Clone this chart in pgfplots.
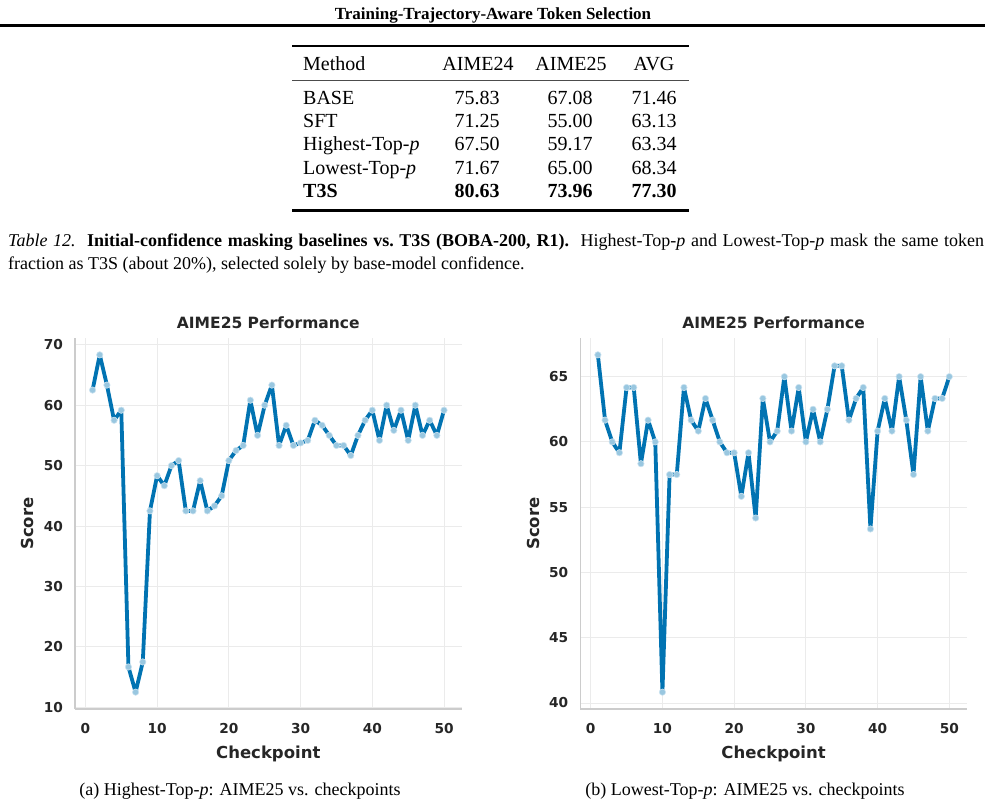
\documentclass[border=0pt]{standalone}
\usepackage{fontspec}
\setmainfont{Liberation Serif}
\newfontfamily\dejavu{DejaVu Sans}
\usepackage{pgfplots}
\usepackage{pgfplotstable}
\pgfplotsset{compat=1.18}
\definecolor{cb}{RGB}{1,115,178}
\definecolor{txt}{RGB}{38,38,38}
\definecolor{spine}{RGB}{204,204,204}
\definecolor{gridc}{RGB}{235,235,235}

\pgfplotstableread{
x y
1 62.50
2 68.33
3 63.33
4 57.50
5 59.17
6 16.67
7 12.50
8 17.50
9 42.50
10 48.33
11 46.67
12 50.00
13 50.83
14 42.50
15 42.50
16 47.50
17 42.50
18 43.33
19 45.00
20 50.83
21 52.50
22 53.33
23 60.83
24 55.00
25 60.00
26 63.33
27 53.33
28 56.67
29 53.33
30 53.75
31 54.17
32 57.50
33 56.67
34 55.00
35 53.33
36 53.33
37 51.67
38 55.00
39 57.50
40 59.17
41 54.17
42 60.00
43 55.83
44 59.17
45 54.17
46 60.00
47 55.00
48 57.50
49 55.00
50 59.17
}\hightab

\pgfplotstableread{
x y
1 66.67
2 61.67
3 60.00
4 59.17
5 64.17
6 64.17
7 58.33
8 61.67
9 60.00
10 40.83
11 57.50
12 57.50
13 64.17
14 61.67
15 60.83
16 63.33
17 61.67
18 60.00
19 59.17
20 59.17
21 55.83
22 59.17
23 54.17
24 63.33
25 60.00
26 60.83
27 65.00
28 60.83
29 64.17
30 60.00
31 62.50
32 60.00
33 62.50
34 65.83
35 65.83
36 61.67
37 63.33
38 64.17
39 53.33
40 60.83
41 63.33
42 60.83
43 65.00
44 61.67
45 57.50
46 65.00
47 60.83
48 63.33
49 63.33
50 65.00
}\lowtab

\pgfplotsset{myax/.style={
  scale only axis, width=386.6pt, height=371pt,
  xmin=-1.45, xmax=52.45,
  axis x line*=bottom, axis y line*=left,
  axis line style={-, draw=spine, line width=1.3pt},
  xtick={0,10,...,50},
  major tick length=0pt,
  grid=major, grid style={draw=gridc, line width=0.9pt},
  /pgf/number format/assume math mode=true,
  tick label style={font=\dejavu\bfseries\fontsize{13.7}{16}\selectfont, text=txt},
  xticklabel style={yshift=-11pt},
  yticklabel style={xshift=-8.5pt},
  label style={font=\dejavu\bfseries\fontsize{16.5}{19}\selectfont, text=txt},
  every axis title shift=0pt,
  title style={font=\dejavu\bfseries\fontsize{15.5}{18}\selectfont, text=txt, at={(axis description cs:0.5,1.0404)}, anchor=center},
  xlabel style={at={(axis description cs:0.5,-0.12)}, anchor=center},
  title={AIME25 Performance}, xlabel={Checkpoint}, ylabel={Score},
}}

\begin{document}
\begin{tikzpicture}[x=1pt,y=1pt]
\useasboundingbox (0pt,0pt) rectangle (985pt,-806pt);

% running header
\node[anchor=base, inner sep=0, font=\bfseries\fontsize{17}{20}\selectfont] at (493,-19.5) {Training-Trajectory-Aware Token Selection};
\draw[line width=2.3pt] (0,-25.5) -- (985,-25.5);

% table
\draw[line width=2.2pt] (292,-46) -- (689,-46);
\draw[line width=1pt, black!70] (292,-80) -- (689,-80);
\draw[line width=2.2pt] (292,-210.5) -- (689,-210.5);
\begin{scope}[every node/.style={inner sep=0, font=\fontsize{20}{24}\selectfont}]
\node[anchor=base west] at (303,-70) {Method};
\node[anchor=base] at (478,-70) {AIME24};
\node[anchor=base] at (571,-70) {AIME25};
\node[anchor=base] at (654,-70) {AVG};
\node[anchor=base west] at (303,-104) {BASE};
\node[anchor=base] at (477,-104) {75.83};
\node[anchor=base] at (570,-104) {67.08};
\node[anchor=base] at (654,-104) {71.46};
\node[anchor=base west] at (303,-127) {SFT};
\node[anchor=base] at (477,-127) {71.25};
\node[anchor=base] at (570,-127) {55.00};
\node[anchor=base] at (654,-127) {63.13};
\node[anchor=base west] at (303,-150.5) {Highest-Top-\textit{p}};
\node[anchor=base] at (477,-150.5) {67.50};
\node[anchor=base] at (570,-150.5) {59.17};
\node[anchor=base] at (654,-150.5) {63.34};
\node[anchor=base west] at (303,-174) {Lowest-Top-\textit{p}};
\node[anchor=base] at (477,-174) {71.67};
\node[anchor=base] at (570,-174) {65.00};
\node[anchor=base] at (654,-174) {68.34};
\node[anchor=base west] at (303,-197) {\bfseries T3S};
\node[anchor=base] at (477,-197) {\bfseries 80.63};
\node[anchor=base] at (570,-197) {\bfseries 73.96};
\node[anchor=base] at (654,-197) {\bfseries 77.30};
\end{scope}

% caption
\begin{scope}[every node/.style={inner sep=0, font=\fontsize{18}{22}\selectfont}]
\node[anchor=base west] at (8,-246.5) {\makebox[976pt][s]{\textit{Table 12.}\ \ \textbf{Initial-confidence masking baselines vs.\ T3S (BOBA-200, R1).}\ \ Highest-Top-\textit{p} and Lowest-Top-\textit{p} mask the same token}};
\node[anchor=base west] at (8,-269.5) {fraction as T3S (about 20\%), selected solely by base-model confidence.};
\end{scope}

% left plot
\begin{axis}[myax, at={(75pt,-709pt)}, anchor=south west,
  ymin=9.71, ymax=71.12, ytick={10,20,...,70},
  ylabel style={at={(axis description cs:-0.124,0.5)}, anchor=center}]
\addplot[only marks, mark=*, mark size=3.2pt, mark options={fill=cb!40!white, draw=cb!20!white, line width=0.6pt}] table[x=x,y=y] {\hightab};
\addplot[cb, line width=3.8pt, no marks, line join=round, line cap=round] table[x=x,y=y] {\hightab};
\end{axis}

% right plot
\begin{axis}[myax, at={(580.3pt,-709pt)}, anchor=south west,
  ymin=39.54, ymax=67.96, ytick={40,45,...,65},
  ylabel style={at={(axis description cs:-0.122,0.5)}, anchor=center}]
\addplot[only marks, mark=*, mark size=3.2pt, mark options={fill=cb!40!white, draw=cb!20!white, line width=0.6pt}] table[x=x,y=y] {\lowtab};
\addplot[cb, line width=3.8pt, no marks, line join=round, line cap=round] table[x=x,y=y] {\lowtab};
\end{axis}

% subcaptions
\node[anchor=base, inner sep=0, font=\fontsize{18}{22}\selectfont] at (240,-795) {(a) Highest-Top-\textit{p}: AIME25 vs. checkpoints};
\node[anchor=base, inner sep=0, font=\fontsize{18}{22}\selectfont] at (745,-795) {(b) Lowest-Top-\textit{p}: AIME25 vs. checkpoints};
\end{tikzpicture}
\end{document}
